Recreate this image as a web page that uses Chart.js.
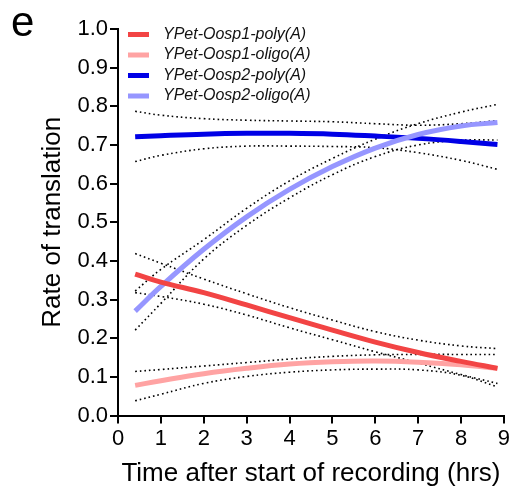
<!DOCTYPE html>
<html>
<head>
<meta charset="utf-8">
<script src="https://cdn.jsdelivr.net/npm/chart.js@4.4.1/dist/chart.umd.min.js"></script>
<style>
  html, body { margin: 0; padding: 0; background: #fff; }
  #wrap { position: relative; width: 512px; height: 495px; }
</style>
</head>
<body>
<div id="wrap"><canvas id="rateChart" width="512" height="495"></canvas></div>
<script>
// time points (hrs) of the fitted curves
const hours = [0.4, 1, 2, 3, 4, 5, 6, 7, 8, 8.85];

// YPet-Oosp1-poly(A): fit and 95% band
const oosp1Poly   = [0.366, 0.345, 0.318, 0.286, 0.253, 0.221, 0.190, 0.163, 0.140, 0.122];
const oosp1PolyHi = [0.419, 0.394, 0.353, 0.315, 0.279, 0.247, 0.217, 0.195, 0.180, 0.173];
const oosp1PolyLo = [0.318, 0.308, 0.288, 0.260, 0.227, 0.196, 0.165, 0.136, 0.106, 0.083];

// YPet-Oosp1-oligo(A)
const oosp1Oligo   = [0.078, 0.090, 0.108, 0.122, 0.133, 0.139, 0.141, 0.138, 0.131, 0.122];
const oosp1OligoHi = [0.114, 0.119, 0.128, 0.137, 0.146, 0.153, 0.157, 0.158, 0.158, 0.158];
const oosp1OligoLo = [0.038, 0.055, 0.083, 0.101, 0.112, 0.118, 0.120, 0.118, 0.104, 0.074];

// YPet-Oosp2-poly(A)
const oosp2Poly   = [0.721, 0.724, 0.728, 0.730, 0.730, 0.728, 0.723, 0.717, 0.709, 0.701];
const oosp2PolyHi = [0.787, 0.777, 0.768, 0.764, 0.762, 0.760, 0.755, 0.751, 0.755, 0.763];
const oosp2PolyLo = [0.657, 0.673, 0.690, 0.697, 0.697, 0.696, 0.693, 0.680, 0.660, 0.637];

// YPet-Oosp2-oligo(A)
const oosp2Oligo   = [0.270, 0.334, 0.430, 0.514, 0.585, 0.644, 0.692, 0.727, 0.749, 0.758];
const oosp2OligoHi = [0.322, 0.378, 0.455, 0.536, 0.607, 0.665, 0.715, 0.755, 0.785, 0.805];
const oosp2OligoLo = [0.221, 0.290, 0.405, 0.492, 0.563, 0.623, 0.670, 0.700, 0.712, 0.713];

const xTicks = [0, 1, 2, 3, 4, 5, 6, 7, 8, 9];
const yTicks = [0.0, 0.1, 0.2, 0.3, 0.4, 0.5, 0.6, 0.7, 0.8, 0.9, 1.0];

const FONT = "'Liberation Sans', Arial, sans-serif";

const pts = (ys) => hours.map((h, i) => ({ x: h, y: ys[i] }));

function fitLine(label, ys, color, order) {
  return {
    label: label,
    data: pts(ys),
    borderColor: color,
    backgroundColor: color,
    borderWidth: 5,
    borderCapStyle: "butt",
    pointRadius: 0,
    tension: 0.4,
    fill: false,
    order: order
  };
}

function bandLine(ys) {
  return {
    label: "",
    data: pts(ys),
    borderColor: "#000",
    borderWidth: 1.6,
    borderDash: [1.6, 3],
    borderCapStyle: "butt",
    pointRadius: 0,
    tension: 0.4,
    fill: false,
    order: 10
  };
}

// panel letter + legend drawn inside the plot
const extras = {
  id: "extras",
  afterDraw(chart) {
    const ctx = chart.ctx;
    ctx.save();
    ctx.fillStyle = "#000";
    ctx.font = "42px " + FONT;
    ctx.textBaseline = "alphabetic";
    ctx.textAlign = "left";
    ctx.fillText("e", 11, 36);

    let y = 34.5;
    chart.data.datasets.forEach(ds => {
      if (!ds.label) return;
      ctx.fillStyle = ds.borderColor;
      ctx.fillRect(128, y - 2.5, 21, 5);
      ctx.fillStyle = "#111";
      ctx.font = "italic 16px " + FONT;
      ctx.textBaseline = "middle";
      ctx.fillText(ds.label, 163, y);
      y += 20.5;
    });
    ctx.restore();
  }
};

new Chart(document.getElementById("rateChart"), {
  type: "line",
  data: {
    datasets: [
      fitLine("YPet-Oosp1-poly(A)", oosp1Poly, "#F24444", 0),
      fitLine("YPet-Oosp1-oligo(A)", oosp1Oligo, "#FFA3A3", 3),
      fitLine("YPet-Oosp2-poly(A)", oosp2Poly, "#0000E6", 2),
      fitLine("YPet-Oosp2-oligo(A)", oosp2Oligo, "#9696FF", 1),
      bandLine(oosp1PolyHi), bandLine(oosp1PolyLo),
      bandLine(oosp1OligoHi), bandLine(oosp1OligoLo),
      bandLine(oosp2PolyHi), bandLine(oosp2PolyLo),
      bandLine(oosp2OligoHi), bandLine(oosp2OligoLo)
    ]
  },
  options: {
    responsive: false,
    animation: false,
    layout: { padding: { left: 30, right: 7, top: 29, bottom: 0 } },
    plugins: {
      legend: { display: false },
      tooltip: { enabled: false }
    },
    scales: {
      x: {
        type: "linear",
        min: 0,
        max: 9,
        afterBuildTicks: (s) => { s.ticks = xTicks.map(v => ({ value: v })); },
        afterFit: (s) => { s.height = 79.5; },
        border: { display: true, color: "#000", width: 2 },
        grid: { drawOnChartArea: false, color: "#000", lineWidth: 2, tickLength: 8 },
        ticks: { color: "#000", font: { family: FONT, size: 22 }, padding: 2, maxRotation: 0 },
        title: {
          display: true,
          text: "Time after start of recording (hrs)",
          color: "#000",
          font: { family: FONT, size: 26 },
          padding: { top: 0, bottom: 6 }
        }
      },
      y: {
        min: 0,
        max: 1,
        afterBuildTicks: (s) => { s.ticks = yTicks.map(v => ({ value: v })); },
        afterFit: (s) => { s.width = 88; },
        border: { display: true, color: "#000", width: 2 },
        grid: { drawOnChartArea: false, color: "#000", lineWidth: 2, tickLength: 8 },
        ticks: {
          color: "#000",
          font: { family: FONT, size: 22 },
          padding: 2,
          callback: (v) => v.toFixed(1)
        },
        title: {
          display: true,
          text: "Rate of translation",
          color: "#000",
          font: { family: FONT, size: 26 },
          padding: { top: 7, bottom: 0 }
        }
      }
    }
  },
  plugins: [extras]
});
</script>
</body>
</html>
